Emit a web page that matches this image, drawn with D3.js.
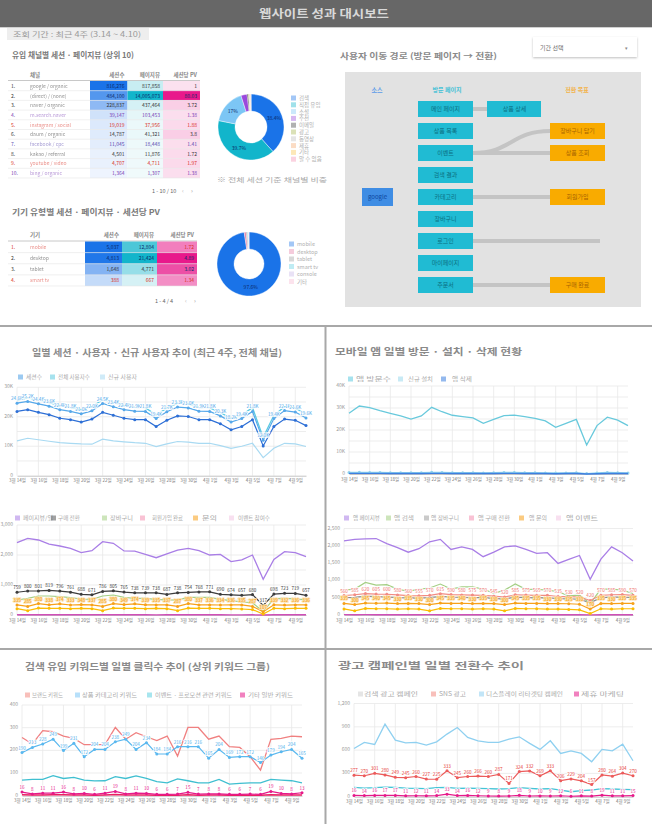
<!DOCTYPE html>
<html><head><meta charset="utf-8">
<script src="https://cdn.jsdelivr.net/npm/d3@7"></script>
<style>
body{margin:0;background:#fff;}
svg text{font-family:"Noto Sans CJK KR","Noto Sans",sans-serif;}
</style>
</head><body>
<svg id="c" width="652" height="824"></svg>
<script>
// ---------------- DATA ----------------
const headerTitle = "웹사이트 성과 대시보드";
const periodText = "조회 기간 : 최근 4주 (3.14 ~ 4.10)";
const table1Title = "유입 채널별 세션 · 페이지뷰 (상위 10)";
const table2Title = "기기 유형별 세션 · 페이지뷰 · 세션당 PV";
const flowTitle = "사용자 이동 경로 (방문 페이지 → 전환)";
const dropdownText = "기간 선택";

const table1Header = ["채널", "세션수", "페이지뷰", "세션당 PV"];
const table1Names = ["google / organic", "(direct) / (none)", "naver / organic", "m.search.naver", "instagram / social", "daum / organic", "facebook / cpc", "kakao / referral", "youtube / video", "bing / organic"];
const table1Col1 = [816276, 484100, 228837, 39147, 19019, 14787, 11045, 4501, 4707, 1364];
const table1Col2 = [817858, 14005073, 437464, 103453, 37956, 41321, 18448, 11876, 4711, 1307];
const table1Col3 = [1.00, 80.03, 3.72, 1.38, 1.88, 3.80, 1.41, 1.72, 1.97, 1.38];
const table1RowColor = ["#333", "#333", "#333", "#7b3fb5", "#d93025", "#333", "#5c4bb0", "#333", "#d93025", "#7b3fb5"];

const table2Header = ["기기", "세션수", "페이지뷰", "세션당 PV"];
const table2Names = ["mobile", "desktop", "tablet", "smart tv"];
const table2Col1 = [5037, 4813, 1648, 388];
const table2Col2 = [12804, 21424, 4771, 667];
const table2Col3 = [1.72, 4.89, 3.02, 1.34];
const table2RowColor = ["#d93025", "#333", "#333", "#d93025"];

const donut1Labels = ["검색", "직접 유입", "소셜", "추천", "이메일", "광고", "동영상", "제휴", "기타", "알 수 없음"];
const donut1Values = [38.4, 39.7, 17.0, 3.0, 0.6, 0.4, 0.3, 0.3, 0.2, 0.1];
const donut1Colors = ["#1a73e8", "#12b5cb", "#7cc6f5", "#9a48dc", "#3c3c3c", "#a6b54a", "#bdbdbd", "#f6a86b", "#fbc54a", "#f48fb1"];
const donut1Caption = "※ 전체 세션 기준 채널별 비중";

const donut2Labels = ["mobile", "desktop", "tablet", "smart tv", "console", "기타"];
const donut2Values = [97.6, 1.0, 0.6, 0.4, 0.2, 0.2];
const donut2Colors = ["#1a73e8", "#e57fa8", "#9e9e9e", "#5fd0e0", "#c9b6e8", "#f7b8d2"];

const flowHeaders = ["소스", "방문 페이지", "전환 목표"];
const flowSource = "google";
const flowPages = ["메인 페이지", "상품 목록", "이벤트", "검색 결과", "카테고리", "장바구니", "로그인", "마이페이지", "주문서"];
const flowNext = "상품 상세";
const flowGoals = ["장바구니 담기", "상품 조회", "회원가입", "구매 완료"];
const flowGoalRow = [1, 2, 4, 8];
const flowLinks = [["이벤트", "장바구니 담기"], ["이벤트", "상품 조회"], ["카테고리", "회원가입"], ["로그인", null], ["주문서", "구매 완료"]];

const dates = ["3월 14일","3월 15일","3월 16일","3월 17일","3월 18일","3월 19일","3월 20일","3월 21일","3월 22일","3월 23일","3월 24일","3월 25일","3월 26일","3월 27일","3월 28일","3월 29일","3월 30일","3월 31일","4월 1일","4월 2일","4월 3일","4월 4일","4월 5일","4월 6일","4월 7일","4월 8일","4월 9일","4월 10일"];

// chart A (K)
const aTitle = "일별 세션 · 사용자 · 신규 사용자 추이 (최근 4주, 전체 채널)";
const aLegend = ["세션수", "전체 사용자수", "신규 사용자"];
const aSessions = [25.6, 26.4, 25.7, 24.8, 23.8, 23.1, 22.4, 23.4, 25.8, 24.8, 23.8, 23.2, 23.0, 20.7, 22.9, 24.6, 24.4, 23.1, 23.0, 21.5, 19.4, 20.6, 23.1, 13.0, 20.5, 23.4, 22.9, 21.0];
const aUsers = [24.6, 25.2, 24.4, 23.6, 22.4, 21.8, 21.0, 22.0, 24.5, 23.4, 22.4, 21.9, 21.8, 19.4, 21.7, 23.3, 23.0, 21.9, 21.8, 20.3, 18.2, 19.4, 21.8, 12.0, 19.4, 22.1, 21.6, 19.6];
const aActive = [21.8, 22.4, 21.5, 20.7, 19.5, 19.0, 18.2, 19.2, 21.5, 20.5, 19.5, 19.0, 19.0, 16.7, 18.8, 20.3, 20.1, 19.0, 19.0, 17.6, 15.6, 16.7, 19.0, 10.1, 16.7, 19.2, 18.8, 17.0];
const aNewUsers = [11.8, 12.7, 12.2, 11.7, 11.2, 11.0, 10.8, 10.7, 12.4, 11.8, 11.5, 11.2, 11.0, 9.9, 10.8, 11.6, 11.4, 11.0, 11.0, 10.2, 9.3, 10.0, 11.0, 6.1, 9.3, 11.0, 10.8, 9.9];
const aYTicks = [0, 10, 20, 30];

// chart B
const bLegend = ["페이지뷰/일", "구매 전환", "장바구니", "회원가입 완료", "문의", "이벤트 참여수"];
const bPurple = [2410, 2555, 2500, 2365, 2300, 2220, 2080, 2145, 2445, 2390, 2135, 2130, 2020, 1910, 2035, 2165, 2220, 2145, 2000, 2020, 1780, 1835, 2000, 1190, 1855, 2110, 2080, 1945];
const bBlack = [759, 800, 801, 819, 796, 761, 688, 671, 786, 805, 765, 738, 739, 738, 687, 738, 754, 768, 771, 690, 674, 657, 680, 317, 698, 723, 719, 657];
const bGreen = [500, 556, 633, 633, 611, 578, 533, 522, 633, 667, 589, 556, 556, 522, 500, 500, 589, 589, 589, 522, 478, 433, 411, 111, 544, 556, 544, 500];
const bOrange = [335, 285, 380, 338, 374, 333, 348, 337, 285, 380, 349, 374, 339, 335, 337, 287, 380, 337, 336, 334, 336, 335, 287, 107, 339, 332, 336, 336];
const bYellow = [210, 144, 230, 222, 222, 210, 222, 210, 144, 230, 222, 222, 210, 222, 210, 144, 230, 222, 222, 210, 210, 200, 180, 33, 222, 210, 222, 222];
const bMagenta = [8, 6, 9, 8, 8, 7, 6, 6, 9, 8, 7, 7, 6, 5, 6, 7, 8, 7, 7, 6, 5, 5, 6, 2, 6, 7, 7, 6];
const bYTicks = [0, 1000, 2000, 3000];

// chart C (K)
const cTitle = "모바일 앱 일별 방문 · 설치 · 삭제 현황";
const cLegend = ["앱 방문수", "신규 설치", "앱 삭제"];
const cVisits = [27.6, 30.9, 30.2, 28.8, 27.6, 26.4, 25.0, 26.4, 30.3, 28.3, 26.7, 26.1, 25.5, 23.0, 24.8, 26.5, 26.8, 26.1, 25.3, 24.1, 21.2, 23.0, 24.8, 13.2, 22.0, 25.8, 24.5, 22.0];
const cInstalls = [0.7, 0.8, 0.7, 0.7, 0.6, 0.6, 0.6, 0.6, 0.8, 0.7, 0.6, 0.6, 0.6, 0.5, 0.6, 0.7, 0.7, 0.6, 0.6, 0.5, 0.5, 0.5, 0.6, 0.2, 0.5, 0.7, 0.6, 0.5];
const cRemoves = [0.3, 0.3, 0.3, 0.3, 0.2, 0.2, 0.2, 0.2, 0.3, 0.3, 0.2, 0.2, 0.2, 0.2, 0.2, 0.3, 0.3, 0.2, 0.2, 0.2, 0.1, 0.2, 0.2, 0.0, 0.1, 0.2, 0.2, 0.2];
const cYTicks = [0, 10, 20, 30, 40];

// chart D
const dLegend = ["앱 페이지뷰", "앱 검색", "앱 장바구니", "앱 구매 전환", "앱 문의", "앱 이벤트"];
const dPurple = [2145, 2185, 2200, 2210, 2065, 1950, 1815, 1915, 2115, 2185, 1895, 1970, 1895, 1685, 1815, 1970, 2000, 1895, 1780, 1800, 1490, 1605, 1720, 1030, 1615, 1970, 1800, 1560];
const dGreen = [720, 750, 940, 865, 875, 750, 685, 750, 780, 895, 750, 815, 815, 750, 625, 720, 895, 740, 740, 720, 675, 550, 575, 335, 750, 750, 720, 625];
const dGray = [500, 510, 545, 530, 525, 505, 495, 490, 500, 540, 520, 510, 505, 500, 480, 460, 515, 505, 495, 500, 470, 465, 455, 350, 500, 515, 520, 500];
const dPink = [560, 585, 620, 605, 600, 580, 560, 555, 570, 615, 590, 580, 575, 570, 545, 520, 585, 575, 565, 570, 535, 530, 520, 420, 570, 585, 590, 570];
const dOrange = [335, 300, 345, 340, 345, 330, 335, 330, 300, 345, 335, 340, 330, 335, 330, 300, 345, 335, 335, 330, 330, 325, 310, 170, 335, 330, 335, 335];
const dYellow = [175, 120, 190, 180, 180, 170, 180, 170, 120, 190, 180, 180, 170, 180, 170, 120, 190, 180, 180, 170, 170, 160, 150, 40, 180, 170, 180, 180];
const dMagenta = [10, 8, 10, 9, 9, 8, 8, 7, 10, 9, 8, 8, 7, 6, 7, 8, 9, 8, 8, 7, 6, 6, 7, 3, 7, 8, 8, 7];
const dYTicks = [0, 500, 1000, 1500, 2000, 2500];

// chart E
const eTitle = "검색 유입 키워드별 일별 클릭수 추이 (상위 키워드 그룹)";
const eLegend = ["브랜드 키워드", "상품 카테고리 키워드", "이벤트 · 프로모션 관련 키워드", "기타 일반 키워드"];
const eRed = [257, 228, 287, 282, 263, 253, 225, 225, 225, 301, 249, 278, 260, 243, 263, 175, 301, 301, 249, 263, 216, 213, 172, 113, 249, 253, 263, 260];
const eBlue = [190, 213, 228, 249, 199, 231, 172, 204, 204, 238, 249, 204, 234, 184, 184, 216, 216, 216, 165, 204, 169, 172, 172, 146, 179, 194, 204, 165];
const eTeal = [69, 72, 72, 88, 76, 81, 69, 65, 66, 84, 76, 87, 76, 62, 57, 74, 66, 57, 57, 72, 51, 54, 57, 57, 72, 69, 66, 57];
const eMagenta = [16, 8, 11, 11, 16, 8, 10, 6, 11, 19, 8, 11, 10, 6, 6, 7, 15, 7, 8, 8, 6, 6, 7, 6, 19, 10, 8, 13];
const ePink = [4, 3, 3, 4, 4, 3, 3, 2, 3, 5, 3, 3, 3, 2, 2, 2, 4, 2, 3, 3, 2, 2, 2, 2, 4, 3, 3, 3];
const eYTicks = [0, 100, 200, 300, 400];

// chart F
const fTitle = "광고 캠페인별 일별 전환수 추이";
const fLegend = ["검색 광고 캠페인", "SNS 광고", "디스플레이 리타겟팅 캠페인", "제휴 마케팅"];
const fBlue = [621, 699, 673, 934, 729, 694, 699, 664, 707, 806, 891, 763, 720, 699, 699, 741, 771, 686, 609, 720, 557, 591, 557, 450, 609, 591, 677, 463];
const fRed = [277, 270, 301, 280, 249, 245, 260, 227, 225, 333, 245, 260, 266, 260, 287, 171, 324, 332, 269, 333, 206, 229, 204, 157, 280, 264, 304, 270];
const fTeal = [120, 111, 116, 124, 120, 111, 107, 103, 116, 120, 107, 111, 107, 103, 99, 103, 116, 107, 99, 103, 86, 64, 77, 86, 103, 99, 94, 90];
const fMagenta = [16, 14, 16, 17, 17, 11, 12, 11, 14, 33, 14, 16, 12, 9, 8, 9, 18, 9, 10, 9, 12, 6, 11, 8, 19, 11, 11, 15];
const fYTicks = [0, 300, 600, 900, 1200];

// ---------------- DRAW ----------------
const svg = d3.select("#c");
const fmtInt = d3.format(",");

// header
svg.append("rect").attr("x", 0).attr("y", 0).attr("width", 652).attr("height", 27).attr("fill", "#676767");
svg.append("line").attr("x1", 0).attr("x2", 652).attr("y1", 27.5).attr("y2", 27.5).attr("stroke", "#d0d0d0");
svg.append("text").attr("x", 324).attr("y", 18).attr("text-anchor", "middle").attr("fill", "#d9d9d9")
  .attr("font-size", 11).attr("font-weight", 700).attr("textLength", 130).attr("lengthAdjust", "spacingAndGlyphs").text(headerTitle);

// period box
svg.append("rect").attr("x", 7).attr("y", 28).attr("width", 142).attr("height", 12).attr("fill", "#eeeeee");
svg.append("text").attr("x", 13).attr("y", 37).attr("fill", "#9a9a9a").attr("font-size", 7)
  .attr("textLength", 128).attr("lengthAdjust", "spacingAndGlyphs").text(periodText);

function subTitle(x, y, w, t, col, fs) {
  svg.append("text").attr("x", x).attr("y", y).attr("fill", col || "#7a7a7a").attr("font-size", fs || 8).attr("font-weight", 700)
    .attr("textLength", w).attr("lengthAdjust", "spacingAndGlyphs").text(t);
}
subTitle(12, 58, 122, table1Title);
subTitle(12, 215, 148, table2Title, "#7a7a7a", 7.5);
subTitle(340, 59, 157, flowTitle, "#8a8a8a");

// dropdown
const defs = svg.append("defs");
const flt = defs.append("filter").attr("id", "sh").attr("x", "-10%").attr("y", "-20%").attr("width", "120%").attr("height", "160%");
flt.append("feDropShadow").attr("dx", 0).attr("dy", 1).attr("stdDeviation", 1).attr("flood-color", "#000").attr("flood-opacity", 0.25);
svg.append("rect").attr("x", 533).attr("y", 37).attr("width", 104).attr("height", 20).attr("fill", "#fff").attr("filter", "url(#sh)");
svg.append("text").attr("x", 540).attr("y", 49.5).attr("fill", "#666").attr("font-size", 6).text(dropdownText);
svg.append("text").attr("x", 625).attr("y", 49.5).attr("fill", "#888").attr("font-size", 5).text("▾");

// ---------- tables ----------
function drawTable(o) {
  const g = svg.append("g");
  const n = o.names.length;
  const y = d3.scaleBand().domain(d3.range(n)).range([o.top, o.bottom]);
  const cols = o.colX;
  g.append("text").attr("x", 30).attr("y", o.headY).attr("font-size", 5.5).attr("font-weight", 700).attr("fill", "#888").text(o.header[0]);
  [1, 2, 3].forEach(k => {
    g.append("text").attr("x", cols[k] - 3).attr("y", o.headY).attr("text-anchor", "end").attr("font-size", 5.5).attr("font-weight", 700).attr("fill", "#888").text(o.header[k]);
  });
  g.append("line").attr("x1", 8).attr("x2", cols[3]).attr("y1", o.top - 0.5).attr("y2", o.top - 0.5).attr("stroke", "#c8c8c8");
  const colsData = [o.c1, o.c2, o.c3];
  const bases = ["#f3f7fe", "#f1fafb", "#fdf1f7"];
  const tops = ["#1a73e8", "#12b5cb", "#e8198b"];
  colsData.forEach((vals, k) => {
    const t = d3.scalePow().exponent(0.6).domain([0, d3.max(vals)]).range([0, 1]);
    const col = v => d3.interpolateRgb(bases[k], tops[k])(t(v));
    g.selectAll(null).data(vals).join("rect").attr("x", cols[k]).attr("y", (d, i) => y(i)).attr("width", cols[k + 1] - cols[k]).attr("height", y.bandwidth()).attr("fill", col);
    g.selectAll(null).data(vals).join("text").attr("x", cols[k + 1] - 3).attr("y", (d, i) => y(i) + y.bandwidth() / 2 + 2)
      .attr("text-anchor", "end").attr("font-size", 5).attr("fill", (d, i) => t(d) > 0.65 ? "#0b2a6a" : o.rowColor[i])
      .text(d => k === 2 ? d3.format(".2~f")(d) : fmtInt(d));
  });
  g.selectAll(null).data(d3.range(n)).join("line").attr("x1", 8).attr("x2", cols[3]).attr("y1", i => y(i) + y.bandwidth()).attr("y2", i => y(i) + y.bandwidth()).attr("stroke", "#e6e6e6").attr("stroke-width", 0.6);
  g.selectAll(null).data(o.names).join("text").attr("x", 11).attr("y", (d, i) => y(i) + y.bandwidth() / 2 + 2).attr("font-size", 5).attr("fill", (d, i) => o.rowColor[i]).text((d, i) => (i + 1) + ".");
  g.selectAll(null).data(o.names).join("text").attr("x", 30).attr("y", (d, i) => y(i) + y.bandwidth() / 2 + 2).attr("font-size", 5).attr("fill", (d, i) => o.rowColor[i]).attr("opacity", 0.55).text(d => d);
  g.append("text").attr("x", o.pageX).attr("y", o.pageY).attr("font-size", 5.5).attr("fill", "#666").text(`1 - ${n} / ${n}`);
  g.append("text").attr("x", o.pageX + 30).attr("y", o.pageY).attr("font-size", 6).attr("fill", "#bbb").text("‹");
  g.append("text").attr("x", o.pageX + 39).attr("y", o.pageY).attr("font-size", 6).attr("fill", "#999").text("›");
}
drawTable({names: table1Names, header: table1Header, c1: table1Col1, c2: table1Col2, c3: table1Col3, rowColor: table1RowColor,
  top: 81, bottom: 178, headY: 77, colX: [90, 127.5, 163, 200], pageX: 152, pageY: 193});
drawTable({names: table2Names, header: table2Header, c1: table2Col1, c2: table2Col2, c3: table2Col3, rowColor: table2RowColor,
  top: 241.5, bottom: 286, headY: 237, colX: [85, 122, 157, 197], pageX: 155, pageY: 303});

// ---------- donuts ----------
function drawDonut(o) {
  const g = svg.append("g").attr("transform", `translate(${o.cx},${o.cy})`);
  const pie = d3.pie().sort(null).value(d => d);
  const arc = d3.arc().innerRadius(o.ri).outerRadius(o.ro);
  const arcs = pie(o.values);
  g.selectAll("path").data(arcs).join("path").attr("d", arc).attr("fill", (d, i) => o.colors[i]).attr("stroke", "#fff").attr("stroke-width", 0.4);
  g.selectAll("text").data(arcs.filter(d => d.data >= 5)).join("text")
    .attr("transform", d => `translate(${arc.centroid(d)})`).attr("text-anchor", "middle").attr("dy", 2)
    .attr("font-size", 5).attr("fill", "#0b2a6a").text(d => d.data + "%");
  const lg = svg.append("g");
  lg.selectAll("rect").data(o.labels).join("rect").attr("x", o.lx).attr("y", (d, i) => o.ly + i * o.ls - 2.5).attr("width", 5).attr("height", 5)
    .attr("fill", (d, i) => o.colors[i]).attr("opacity", 0.4);
  lg.selectAll("text").data(o.labels).join("text").attr("x", o.lx + 8).attr("y", (d, i) => o.ly + i * o.ls + 2).attr("font-size", 5.5).attr("fill", "#b0b0b0").text(d => d);
}
drawDonut({values: donut1Values, colors: donut1Colors, labels: donut1Labels, cx: 251, cy: 127, ri: 16, ro: 33, lx: 291, ly: 98, ls: 6.8});
svg.append("text").attr("x", 217).attr("y", 182).attr("font-size", 6).attr("fill", "#aaa").attr("textLength", 110).attr("lengthAdjust", "spacingAndGlyphs").text(donut1Caption);
drawDonut({values: donut2Values, colors: donut2Colors, labels: donut2Labels, cx: 249, cy: 264, ri: 15, ro: 32, lx: 289, ly: 244, ls: 7.5});

// ---------- flow diagram ----------
(function () {
  const g = svg.append("g");
  g.append("rect").attr("x", 345).attr("y", 72).attr("width", 296).attr("height", 235).attr("fill", "#e2e2e2");
  const ry = d3.scalePoint().domain(d3.range(flowPages.length)).range([109, 285]);
  const colX = {src: 362, page: 418, next: 487, goal: 550};
  const bw = 55, bh = 16;
  const hdrX = [377, 447, 577], hdrC = ["#5b9be8", "#45c1d6", "#f2b24a"];
  flowHeaders.forEach((h, i) => g.append("text").attr("x", hdrX[i]).attr("y", 92).attr("text-anchor", "middle").attr("font-size", 6).attr("font-weight", 700).attr("fill", hdrC[i]).text(h));
  const link = d3.linkHorizontal();
  g.append("line").attr("x1", colX.page + bw).attr("x2", colX.next).attr("y1", ry(0)).attr("y2", ry(0)).attr("stroke", "#c4c4c4").attr("stroke-width", 4);
  flowLinks.forEach(([from, to]) => {
    const r0 = flowPages.indexOf(from);
    const gi = flowGoals.indexOf(to);
    const y1 = gi >= 0 ? ry(flowGoalRow[gi]) : ry(r0);
    const x1 = gi >= 0 ? colX.goal : colX.goal + 50;
    g.append("path").attr("d", link({source: [colX.page + bw, ry(r0)], target: [x1, y1]})).attr("fill", "none").attr("stroke", "#c4c4c4").attr("stroke-width", 4);
  });
  g.append("rect").attr("x", colX.src).attr("y", ry(4) - 9).attr("width", 31).attr("height", 18).attr("fill", "#3f8de4");
  g.append("text").attr("x", colX.src + 15.5).attr("y", ry(4) + 2).attr("text-anchor", "middle").attr("font-size", 6).attr("fill", "#0d47a1").text(flowSource);
  flowPages.forEach((p, i) => {
    g.append("rect").attr("x", colX.page).attr("y", ry(i) - bh / 2).attr("width", bw).attr("height", bh).attr("fill", "#20bbd3");
    g.append("text").attr("x", colX.page + bw / 2).attr("y", ry(i) + 2).attr("text-anchor", "middle").attr("font-size", 6).attr("fill", "#0b6f82").text(p);
  });
  g.append("rect").attr("x", colX.next).attr("y", ry(0) - bh / 2).attr("width", bw - 1).attr("height", bh).attr("fill", "#20bbd3");
  g.append("text").attr("x", colX.next + bw / 2).attr("y", ry(0) + 2).attr("text-anchor", "middle").attr("font-size", 6).attr("fill", "#0b6f82").text(flowNext);
  flowGoals.forEach((p, i) => {
    g.append("rect").attr("x", colX.goal).attr("y", ry(flowGoalRow[i]) - bh / 2).attr("width", bw).attr("height", bh).attr("fill", "#f9ab00");
    g.append("text").attr("x", colX.goal + bw / 2).attr("y", ry(flowGoalRow[i]) + 2).attr("text-anchor", "middle").attr("font-size", 6).attr("fill", "#a86400").text(p);
  });
})();

// ---------- dividers ----------
svg.append("line").attr("x1", 0).attr("x2", 652).attr("y1", 326).attr("y2", 326).attr("stroke", "#a8a8a8").attr("stroke-width", 2);
svg.append("line").attr("x1", 0).attr("x2", 652).attr("y1", 649).attr("y2", 649).attr("stroke", "#a8a8a8").attr("stroke-width", 2);
svg.append("line").attr("x1", 325.5).attr("x2", 325.5).attr("y1", 326).attr("y2", 824).attr("stroke", "#a8a8a8").attr("stroke-width", 2);

// ---------- line charts ----------
function drawLineChart(o) {
  const g = svg.append("g");
  const n = dates.length;
  const x = d3.scalePoint().domain(d3.range(n)).range([o.x0, o.x1]);
  const y = d3.scaleLinear().domain([0, o.ymax]).range([o.yb, o.yt]);
  const even = d3.range(0, n, 2);
  g.append("g").selectAll("line").data(d3.range(o.gridStep, o.ymax + 1e-9, o.gridStep)).join("line")
    .attr("x1", o.x0).attr("x2", o.x1).attr("y1", d => y(d)).attr("y2", d => y(d)).attr("stroke", "#e8e8e8").attr("stroke-width", 0.8);
  g.append("g").selectAll("line").data(even).join("line")
    .attr("x1", d => x(d)).attr("x2", d => x(d)).attr("y1", o.yt).attr("y2", o.yb).attr("stroke", "#e8e8e8").attr("stroke-width", 0.8);
  const xa = g.append("g").attr("transform", `translate(0,${o.yb})`)
    .call(d3.axisBottom(x).tickValues(even).tickFormat(i => dates[i]).tickSize(0).tickPadding(3.5));
  xa.select(".domain").attr("stroke", "#c4c4c4");
  xa.selectAll("text").attr("font-size", 4.5).attr("fill", "#777");
  const ya = g.append("g").attr("transform", `translate(${o.x0},0)`)
    .call(d3.axisLeft(y).tickValues(o.ticks).tickFormat(o.fmt).tickSize(0).tickPadding(4));
  ya.select(".domain").remove();
  ya.selectAll("text").attr("font-size", 5).attr("fill", "#999").attr("dy", "0.1em");
  const line = d3.line().x((d, i) => x(i)).y(d => y(d));
  o.series.forEach(s => {
    g.append("path").datum(s.values).attr("d", line).attr("fill", "none").attr("stroke", s.color).attr("stroke-width", s.w || 1.2);
    if (s.dots) g.append("g").selectAll("circle").data(s.values).join("circle")
      .attr("cx", (d, i) => x(i)).attr("cy", d => y(d)).attr("r", 1.5).attr("fill", s.color);
  });
  o.series.filter(s => s.labels).forEach(s => {
    g.append("g").selectAll("text").data(s.values).join("text")
      .attr("x", (d, i) => x(i)).attr("y", d => y(d) - 3).attr("text-anchor", "middle").attr("font-size", 4.6)
      .attr("fill", s.labelColor).attr("stroke", s.halo || "#fff").attr("stroke-width", 1.4).attr("paint-order", "stroke")
      .text(s.labelFmt || (d => d));
  });
  if (o.title) g.append("text").attr("x", o.title.x).attr("y", o.title.y).attr("font-size", 9).attr("font-weight", 700)
    .attr("fill", "#8a8a8a").attr("textLength", o.title.w).attr("lengthAdjust", "spacingAndGlyphs").text(o.title.t);
  const lg = g.append("g");
  o.legend.items.forEach((it, i) => {
    lg.append("rect").attr("x", it[0]).attr("y", o.legend.y - 2.5).attr("width", 5).attr("height", 5).attr("fill", o.legend.colors[i]).attr("opacity", 0.55);
    lg.append("text").attr("x", it[1]).attr("y", o.legend.y + 2).attr("font-size", 5.5).attr("fill", "#aaa")
      .attr("textLength", it[2]).attr("lengthAdjust", "spacingAndGlyphs").text(o.legend.texts[i]);
  });
}
const kFmt = d => d === 0 ? "0" : d + "K";

drawLineChart({
  x0: 17, x1: 306, yb: 475.7, yt: 387.3, ymax: 30, gridStep: 5, ticks: aYTicks, fmt: kFmt,
  title: {x: 32, y: 356, w: 250, t: aTitle},
  legend: {y: 377, texts: aLegend, colors: ["#4a9ee6", "#5ccbe0", "#a9daf2"], items: [[18, 26, 16], [50, 58, 32], [100, 108, 29]]},
  series: [
    {values: aNewUsers, color: "#a9daf2"},
    {values: aSessions, color: "#5ccbe0", w: 1.3},
    {values: aActive, color: "#2d6fd6", dots: true},
    {values: aUsers, color: "#56a8ea", dots: true, labels: true, labelColor: "#4aa6ea", labelFmt: d => d.toFixed(1) + "K"}
  ]
});
drawLineChart({
  x0: 17, x1: 306, yb: 615, yt: 525, ymax: 3000, gridStep: 500, ticks: bYTicks, fmt: fmtInt,
  legend: {y: 518, texts: bLegend, colors: ["#a97ee6", "#555", "#a4cf84", "#f48fb1", "#f7a11a", "#f3c6e4"], items: [[15, 23, 30], [51, 58, 22], [102, 110, 23], [140, 152, 31], [193, 202, 15], [229, 238, 32]]},
  series: [
    {values: bPurple, color: "#a97ee6", w: 1.3},
    {values: bGreen, color: "#a4cf84"},
    {values: bMagenta, color: "#d04fb8", w: 1.4},
    {values: bYellow, color: "#fbbc04", dots: true},
    {values: bBlack, color: "#3c3c3c", dots: true, labels: true, labelColor: "#333"},
    {values: bOrange, color: "#f7a11a", dots: true, labels: true, labelColor: "#f29900", halo: "#fde3b5"}
  ]
});
drawLineChart({
  x0: 349, x1: 628, yb: 474, yt: 386, ymax: 40, gridStep: 5, ticks: cYTicks, fmt: kFmt,
  title: {x: 335, y: 355, w: 187, t: cTitle},
  legend: {y: 379, texts: cLegend, colors: ["#5ccbe0", "#9ad9ec", "#3d7fe0"], items: [[348, 356, 35], [398, 408, 25], [441, 452, 20]]},
  series: [
    {values: cVisits, color: "#68c9dc", w: 1.3},
    {values: cInstalls, color: "#8fd3ee", dots: true},
    {values: cRemoves, color: "#3d7fe0", w: 1.4}
  ]
});
drawLineChart({
  x0: 344, x1: 633, yb: 615, yt: 528.5, ymax: 2500, gridStep: 500, ticks: dYTicks, fmt: fmtInt,
  legend: {y: 518, texts: dLegend, colors: ["#a97ee6", "#a4cf84", "#9e9e9e", "#f48fb1", "#f7a11a", "#f3c6e4"], items: [[344, 353, 27], [386, 394, 20], [424, 431, 28], [469, 478, 32], [519, 529, 18], [556, 566, 32]]},
  series: [
    {values: dPurple, color: "#a97ee6", w: 1.3},
    {values: dGreen, color: "#a4cf84"},
    {values: dMagenta, color: "#d04fb8", w: 1.4},
    {values: dGray, color: "#8a8a8a"},
    {values: dYellow, color: "#fbbc04", dots: true},
    {values: dPink, color: "#f28b82", dots: true, labels: true, labelColor: "#ef6f6c"},
    {values: dOrange, color: "#f7a11a", dots: true, labels: true, labelColor: "#f29900", halo: "#fde3b5"}
  ]
});
drawLineChart({
  x0: 22, x1: 302, yb: 795.7, yt: 705, ymax: 400, gridStep: 100, ticks: eYTicks, fmt: fmtInt,
  title: {x: 25, y: 670, w: 245, t: eTitle},
  legend: {y: 695, texts: eLegend, colors: ["#f28b82", "#7cc6f5", "#5fd0e0", "#e6198a"], items: [[25, 32, 31], [75, 82, 55], [147, 155, 77], [240, 248, 45]]},
  series: [
    {values: eRed, color: "#f08080", w: 1.3},
    {values: eTeal, color: "#3fbfd0", w: 1.3},
    {values: ePink, color: "#e91e63", w: 1.4},
    {values: eBlue, color: "#5ab8ef", dots: true, labels: true, labelColor: "#4fb0ec"},
    {values: eMagenta, color: "#e6198a", dots: true, labels: true, labelColor: "#e6198a"}
  ]
});
drawLineChart({
  x0: 354, x1: 633, yb: 796.7, yt: 703.5, ymax: 1200, gridStep: 300, ticks: fYTicks, fmt: fmtInt,
  title: {x: 338, y: 669, w: 186, t: fTitle},
  legend: {y: 694, texts: fLegend, colors: ["#d0d0d0", "#f28b82", "#8fd0f0", "#e6198a"], items: [[358, 364, 54], [431, 439, 27], [479, 486, 77], [574, 581, 43]]},
  series: [
    {values: fBlue, color: "#8fd0f0", w: 1.3},
    {values: fTeal, color: "#45c3d6", w: 1.3},
    {values: fMagenta, color: "#e6198a", dots: true, labels: true, labelColor: "#e6198a"},
    {values: fRed, color: "#ec5b5b", dots: true, labels: true, labelColor: "#e53935"}
  ]
});
</script>
</body></html>
